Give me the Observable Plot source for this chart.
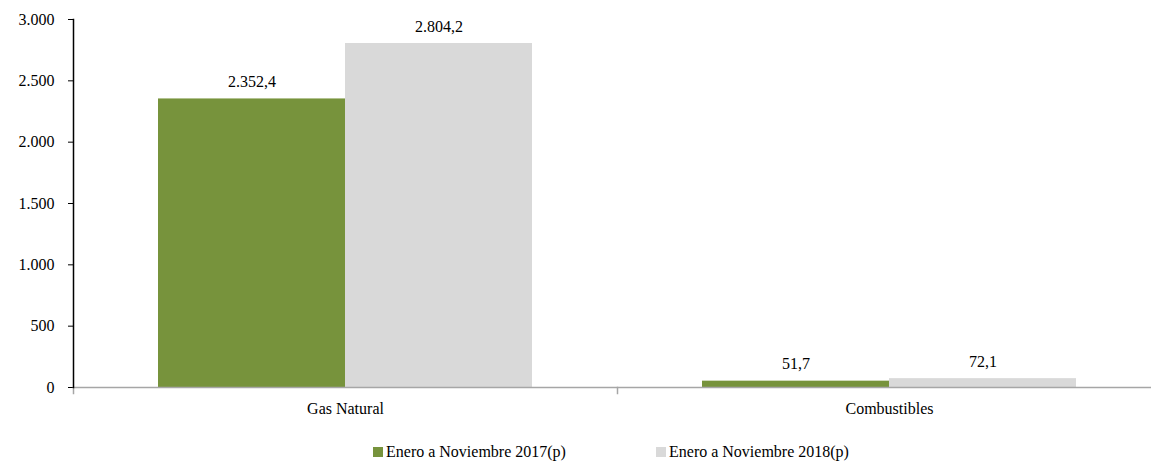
<!DOCTYPE html>
<html>
<head>
<meta charset="utf-8">
<script src="https://cdn.jsdelivr.net/npm/d3@7"></script>
<script src="https://cdn.jsdelivr.net/npm/@observablehq/plot@0.6"></script>
<style>
  html, body { margin: 0; padding: 0; background: #fff; }
  body { width: 1151px; height: 462px; overflow: hidden; font-family: "Liberation Serif", serif; }
  #legend { position: relative; height: 32px; font-size: 16px; color: #000; }
  .item { position: absolute; top: 12px; display: flex; align-items: center; line-height: 20px; white-space: nowrap; }
  .sw { width: 10px; height: 10px; margin-right: 3px; display: inline-block; }
</style>
</head>
<body>
<div id="chart"></div>
<div id="legend"></div>
<script>
const categories = ["Gas Natural", "Combustibles"];
const series = ["Enero a Noviembre 2017(p)", "Enero a Noviembre 2018(p)"];
const values2017 = [2352.4, 51.7];
const values2018 = [2804.2, 72.1];
const colors = ["#77933C", "#D9D9D9"];
const yTicks = [0, 500, 1000, 1500, 2000, 2500, 3000];

const data = [];
categories.forEach((c, i) => {
  data.push({category: c, series: series[0], value: values2017[i]});
  data.push({category: c, series: series[1], value: values2018[i]});
});

const fmtTick = d => d3.format(",.0f")(d).replace(/,/g, ".");
const fmtVal = d => d3.format(",.1f")(d).replace(/,/g, "#").replace(".", ",").replace(/#/g, ".");

const FONT = "'Liberation Serif', serif";

const chart = Plot.plot({
  width: 1151,
  height: 430,
  marginTop: 19,
  marginBottom: 43,
  marginLeft: 73,
  marginRight: 0,
  style: { fontFamily: FONT, fontSize: "16px", color: "#000", background: "#fff", overflow: "visible" },
  fx: { domain: categories, range: [73, 1161], padding: 0, label: null, tickSize: 0, tickPadding: 15 },
  x: { domain: series, paddingInner: 0, paddingOuter: 0.447, axis: null },
  y: { domain: [0, 3000], ticks: yTicks, tickFormat: fmtTick, tickSize: 5, tickPadding: 14, label: null },
  color: { domain: series, range: colors },
  marks: [
    Plot.barY(data, { fx: "category", x: "series", y: "value", fill: "series" }),
    Plot.ruleY([0], { stroke: "#A6A6A6", strokeWidth: 1.5 }),
    Plot.frame({ anchor: "left", insetTop: 368, insetBottom: -6, stroke: "#A6A6A6", strokeWidth: 1.5 }),
    Plot.frame({ anchor: "left", facetAnchor: "left", stroke: "#000", strokeWidth: 1.5 }),
    Plot.text(data, { fx: "category", x: "series", y: "value", text: d => fmtVal(d.value), dy: -17, fontSize: 16, fill: "#000" })
  ]
});

document.getElementById("chart").appendChild(chart);

const legend = document.getElementById("legend");
const lefts = [373, 656];
series.forEach((s, i) => {
  const it = document.createElement("div");
  it.className = "item";
  it.style.left = lefts[i] + "px";
  it.innerHTML = `<span class="sw" style="background:${colors[i]}"></span><span>${s}</span>`;
  legend.appendChild(it);
});
</script>
</body>
</html>
